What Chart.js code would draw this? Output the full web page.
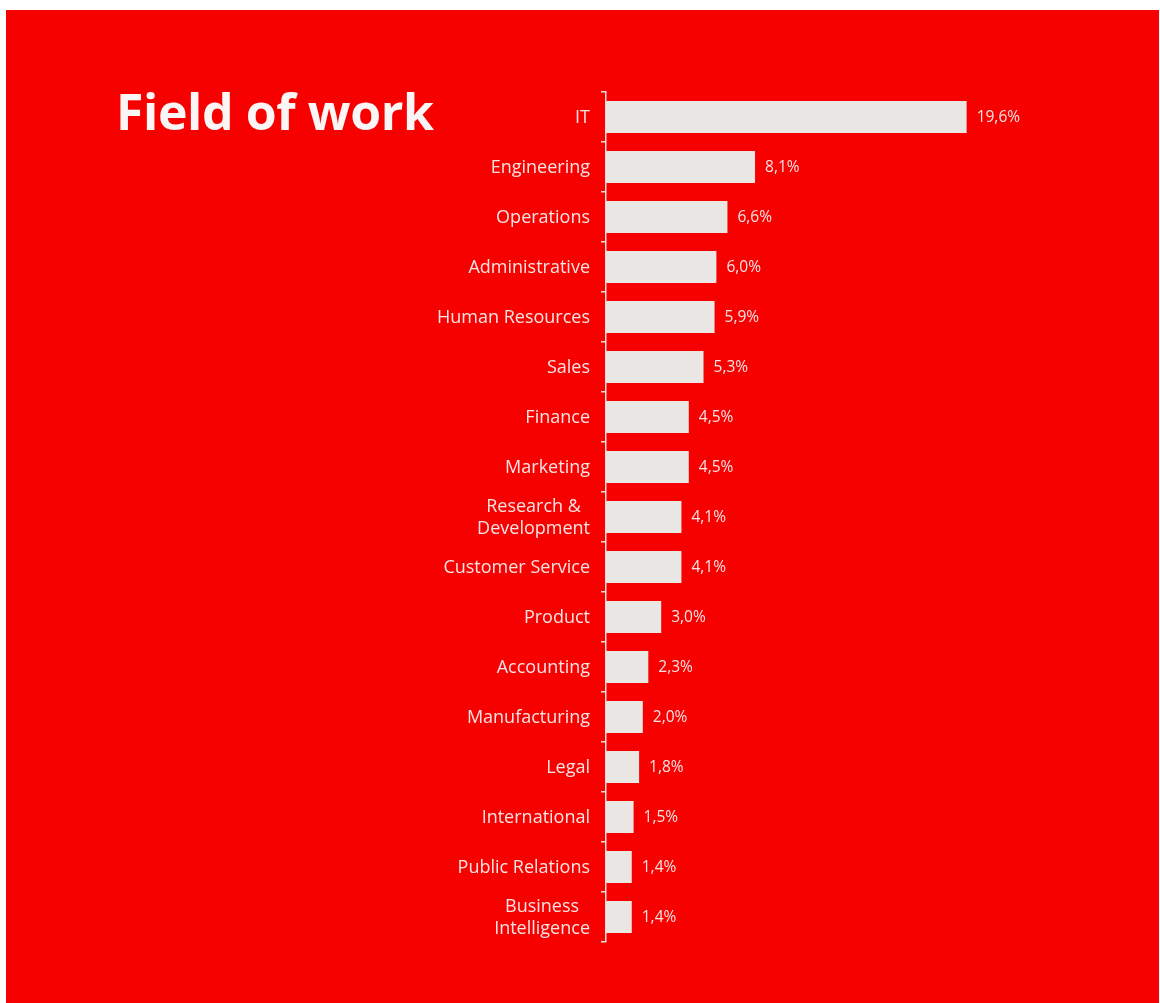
<!DOCTYPE html>
<html>
<head>
<meta charset="utf-8">
<script src="https://cdn.jsdelivr.net/npm/chart.js@4"></script>
<style>
  html, body { margin: 0; padding: 0; background: #fff; }
  #panel {
    position: absolute; left: 6px; top: 10px; width: 1153px; height: 993px;
    background: #f70000;
  }
  #title {
    position: absolute; left: 110px; top: 67px; margin: 0;
    font-family: "Open Sans", sans-serif; font-weight: 700; font-size: 50px;
    color: #fbf6f6; letter-spacing: -0.4px;
  }
  #chart { position: absolute; left: 0; top: 0; }
</style>
</head>
<body>
<div id="panel">
  <h1 id="title">Field of work</h1>
  <canvas id="chart" width="1153" height="993"></canvas>
</div>
<script>
const categories = ['IT', 'Engineering', 'Operations', 'Administrative', 'Human Resources', 'Sales',
    'Finance', 'Marketing', ['Research &', 'Development'], 'Customer Service', 'Product',
    'Accounting', 'Manufacturing', 'Legal', 'International', 'Public Relations',
    ['Business', 'Intelligence']];
const shares = [19.6, 8.1, 6.6, 6.0, 5.9, 5.3, 4.5, 4.5, 4.1, 4.1, 3.0, 2.3, 2.0, 1.8, 1.5, 1.4, 1.4];

const lightText = '#f6e4e4';

// category names: right edge on the axis, two-line names centred on each other
const categoryLabels = {
    id: 'categoryLabels',
    afterDraw(chart) {
        const ctx = chart.ctx;
        const yScale = chart.scales.y;
        const right = yScale.right - 16;
        const lh = 21.5;
        ctx.save();
        ctx.font = '18px "Open Sans", sans-serif';
        ctx.fillStyle = lightText;
        ctx.textBaseline = 'middle';
        categories.forEach((cat, i) => {
            const y = yScale.getPixelForTick(i) + 1;
            const lines = Array.isArray(cat) ? cat : [cat];
            const widest = Math.max(...lines.map(l => ctx.measureText(l).width));
            const cx = right - widest / 2;
            ctx.textAlign = 'center';
            lines.forEach((l, k) => {
                ctx.fillText(l, cx, y + (k - (lines.length - 1) / 2) * lh);
            });
        });
        ctx.restore();
    }
};

// writes the value to the right of each bar
const valueLabels = {
    id: 'valueLabels',
    afterDatasetsDraw(chart) {
        const ctx = chart.ctx;
        const meta = chart.getDatasetMeta(0);
        ctx.save();
        ctx.font = '15.5px "Open Sans", sans-serif';
        ctx.fillStyle = lightText;
        ctx.textAlign = 'left';
        ctx.textBaseline = 'middle';
        meta.data.forEach((bar, i) => {
            const txt = shares[i].toFixed(1).replace('.', ',') + '%';
            ctx.fillText(txt, bar.x + 10, bar.y + 1);
        });
        ctx.restore();
    }
};

new Chart(document.getElementById('chart'), {
    type: 'bar',
    data: {
        labels: categories,
        datasets: [{
            data: shares,
            backgroundColor: '#eae6e3',
            borderWidth: 0,
            barPercentage: 0.8,
            categoryPercentage: 0.8
        }]
    },
    options: {
        indexAxis: 'y',
        responsive: false,
        animation: false,
        layout: { padding: { top: 82, bottom: 61, right: 93, left: 0 } },
        plugins: {
            legend: { display: false },
            tooltip: { enabled: false }
        },
        scales: {
            x: { display: false, min: 0, max: 25 },
            y: {
                afterFit(scale) { scale.width = 600; },
                border: { display: true, color: '#e9dede', width: 1.5 },
                grid: {
                    offset: true,
                    drawOnChartArea: false,
                    drawTicks: true,
                    tickLength: 5,
                    color: '#e9dede',
                    lineWidth: 1.5
                },
                ticks: { display: false }
            }
        }
    },
    plugins: [categoryLabels, valueLabels]
});
</script>
</body>
</html>
